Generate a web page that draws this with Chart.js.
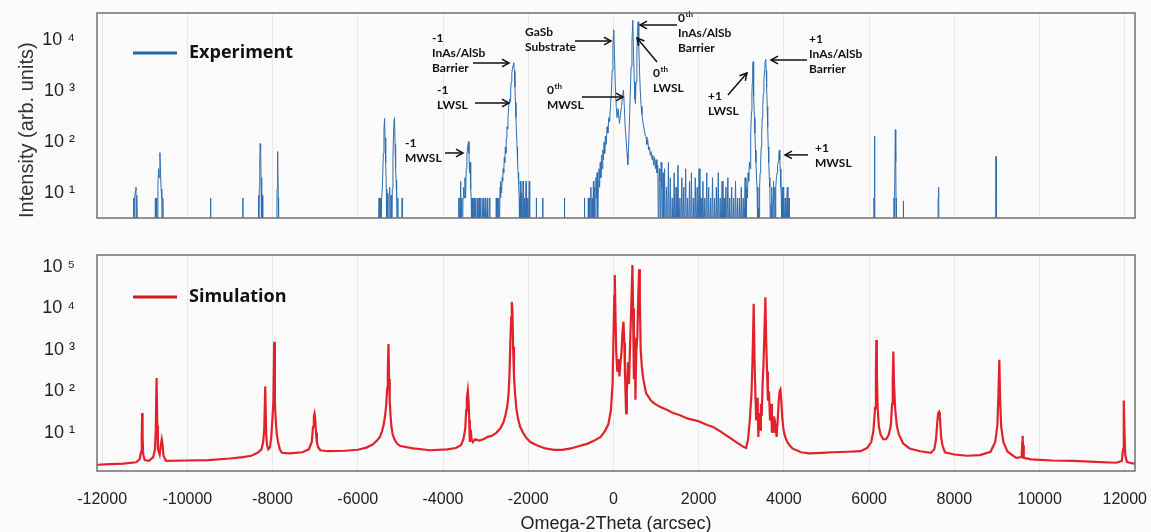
<!DOCTYPE html>
<html>
<head>
<meta charset="utf-8">
<script src="https://cdn.jsdelivr.net/npm/chart.js@4"></script>
<style>
  html, body { margin: 0; padding: 0; background: #fbfbfb; overflow: hidden; }
  #wrap { position: relative; width: 1151px; height: 532px; overflow: hidden; }
  .box { position: absolute; left: 0; width: 1151px; }
</style>
</head>
<body>
<div id="wrap">
  <div class="box" style="top:0;height:232px"><canvas id="expChart"></canvas></div>
  <div class="box" style="top:240px;height:296px"><canvas id="simChart"></canvas></div>
</div>
<script>
// x axis (arcsec) and decade ticks
const xTicks = [-12000, -10000, -8000, -6000, -4000, -2000, 0, 2000, 4000, 6000, 8000, 10000, 12000];
const expTicks = [10, 100, 1000, 10000];
const simTicks = [10, 100, 1000, 10000, 100000];

// measured counts, [omega-2theta, intensity]; 1 = no counts (below the axis), null = no data
const experimentPoints = [
  [-11270,1],[-11260,8],[-11250,1],[-11235,8],[-11220,11],[-11205,13],[-11195,1],[-11185,9],[-11170,1],[-11160,null],
  [-10760,1],[-10750,8],[-10740,1],[-10720,8],[-10700,1],[-10690,15],[-10675,30],[-10660,20],[-10643,62],[-10630,25],[-10615,12],[-10600,8],[-10590,1],[-10575,8],[-10560,1],[-10550,null],
  [-9460,1],[-9455,8],[-9450,1],[-9440,null],
  [-8700,1],[-8696,8],[-8690,1],[-8680,null],
  [-8340,1],[-8330,9],[-8320,1],[-8310,13],[-8300,40],[-8290,93],[-8280,70],[-8270,20],[-8260,8],[-8250,1],[-8240,9],[-8230,1],[-8220,null],
  [-7900,1],[-7895,12],[-7883,65],[-7875,30],[-7865,8],[-7858,1],[-7850,null],
  [-5520,1],[-5500,8],[-5490,1],[-5470,8],[-5460,1],[-5440,8],[-5420,15],[-5400,60],[-5385,170],[-5372,290],[-5360,120],[-5345,40],[-5330,12],[-5320,1],[-5300,10],[-5290,1],[-5270,8],[-5250,13],[-5235,1],[-5220,9],[-5205,1],[-5190,12],[-5175,45],[-5160,150],[-5148,280],[-5138,300],[-5125,90],[-5112,30],[-5100,18],[-5088,8],[-5075,1],[-5060,8],[-5050,1],[-4970,1],[-4960,8],[-4950,1],[-4940,null],
  [-3640,1],[-3630,8],[-3620,1],[-3600,8],[-3590,17],[-3580,1],[-3560,8],[-3545,1],[-3530,8],[-3515,13],[-3500,8],[-3485,20],[-3470,8],[-3455,30],[-3440,55],[-3420,80],[-3402,102],[-3390,60],[-3378,25],[-3365,40],[-3350,12],[-3338,8],[-3325,1],[-3310,8],[-3298,1],[-3270,8],[-3260,1],[-3230,8],[-3220,1],[-3190,8],[-3180,1],[-3150,8],[-3140,1],[-3110,8],[-3100,1],[-3060,8],[-3050,1],[-3010,8],[-3000,1],[-2960,8],[-2950,1],[-2900,8],[-2890,1],[-2880,null],
  [-2760,1],[-2750,8],[-2740,1],[-2720,8],[-2705,1],[-2690,8],[-2680,1],[-2660,13],[-2650,8],[-2640,17],[-2625,10],[-2612,20],[-2600,17],[-2588,30],[-2575,25],[-2562,50],[-2550,40],[-2538,80],[-2525,60],[-2512,120],[-2500,200],[-2488,180],[-2475,300],[-2462,450],[-2450,600],[-2438,700],[-2425,620],[-2412,1000],[-2400,1500],[-2385,2200],[-2370,2800],[-2355,3200],[-2339,3600],[-2325,2500],[-2312,1200],[-2300,600],[-2288,300],[-2275,150],[-2262,80],[-2250,40],[-2238,25],[-2225,15],[-2212,8],[-2200,1],[-2185,17],[-2172,1],[-2155,10],[-2140,1],[-2120,17],[-2110,1],[-2085,8],[-2075,1],[-2050,17],[-2040,1],[-2010,8],[-2000,1],[-1975,17],[-1965,1],[-1955,null],
  [-1815,1],[-1810,8],[-1805,1],[-1800,null],
  [-1665,1],[-1660,8],[-1655,1],[-1650,null],
  [-1155,1],[-1150,8],[-1145,1],[-1140,null],
  [-685,1],[-680,8],[-675,1],[-670,null],
  [-600,1],[-590,8],[-580,1],[-560,8],[-550,1],[-530,13],[-520,1],[-500,8],[-490,1],[-470,17],[-460,1],[-440,13],[-430,1],[-410,20],[-400,8],[-385,25],[-372,1],[-355,17],[-340,30],[-325,13],[-310,40],[-295,20],[-280,55],[-265,30],[-250,70],[-235,45],[-220,100],[-205,60],[-190,130],[-170,90],[-150,200],[-130,150],[-110,300],[-90,250],[-70,500],[-50,900],[-30,2500],[-12,8000],[8,15800],[25,5000],[45,1200],[65,500],[85,300],[110,450],[141,233],[165,350],[190,500],[215,800],[235,1050],[255,500],[275,200],[300,100],[320,60],[336,36],[355,80],[375,250],[395,900],[415,3000],[435,9000],[454,24500],[470,6000],[490,1500],[505,700],[516,570],[530,1500],[550,6000],[565,14000],[579,22800],[595,8000],[612,2500],[630,1000],[650,500],[670,350],[690,250],[710,200],[730,160],[750,130],[766,126],[785,90],[805,110],[825,70],[845,80],[865,55],[885,65],[905,45],[925,55],[945,35],[965,50],[985,30],[1001,45],[1020,25],[1040,35],[1060,1],[1075,30],[1090,17],[1105,1],[1120,40],[1135,13],[1150,1],[1165,25],[1180,1],
  [1200,30],[1220,1],[1245,13],[1265,1],[1290,40],[1310,1],[1335,20],[1355,1],[1380,8],[1400,1],[1425,25],[1445,1],[1470,13],[1490,1],[1515,35],[1535,1],[1560,8],[1580,1],[1605,20],[1625,1],[1650,13],[1670,1],[1695,30],[1715,1],[1740,8],[1760,1],[1785,17],[1805,1],[1830,25],[1850,1],[1875,8],[1895,1],[1920,20],[1940,1],[1965,13],[1985,1],[2010,30],[2030,1],[2055,8],[2075,1],[2100,17],[2120,1],[2145,8],[2165,1],[2190,25],[2210,1],[2235,13],[2255,1],[2280,8],[2300,1],[2325,20],[2345,1],[2370,8],[2390,1],[2415,13],[2435,1],[2460,25],[2480,1],[2505,8],[2525,1],[2550,17],[2570,1],[2595,8],[2615,1],[2640,13],[2660,1],[2685,20],[2705,1],[2730,8],[2750,1],[2775,13],[2795,1],[2820,8],[2840,1],[2865,17],[2885,1],[2910,8],[2930,1],[2955,8],[2975,1],[3000,13],[3020,1],[3045,8],[3065,1],[3090,20],[3110,1],
  [3130,13],[3145,8],[3160,25],[3175,17],[3190,40],[3205,30],[3215,80],[3228,150],[3240,400],[3250,900],[3260,1500],[3268,2500],[3277,3750],[3286,1800],[3295,800],[3308,300],[3320,150],[3333,70],[3345,40],[3358,20],[3370,13],[3390,1],[3409,5],[3420,1],[3430,13],[3443,25],[3455,40],[3468,80],[3480,150],[3493,300],[3505,500],[3518,900],[3530,1500],[3543,2500],[3555,3500],[3565,3900],[3574,4170],[3585,2500],[3595,1200],[3608,500],[3620,200],[3633,80],[3645,40],[3658,20],[3670,13],[3685,1],[3699,6],[3710,1],[3720,13],[3732,1],[3745,8],[3757,17],[3770,1],[3790,13],[3800,1],[3810,13],[3825,20],[3840,25],[3852,35],[3865,40],[3880,55],[3894,69],[3905,45],[3915,30],[3928,13],[3940,8],[3950,1],[3960,13],[3972,1],[3985,13],[3995,1],[4030,8],[4045,1],[4080,13],[4095,1],[4120,8],[4130,1],[4140,null],
  [6110,1],[6115,8],[6123,132],[6130,25],[6138,1],[6145,null],
  [6580,1],[6585,8],[6592,1],[6605,8],[6616,175],[6625,40],[6632,8],[6640,1],[6650,null],
  [6800,1],[6804,7],[6808,1],[6815,null],
  [7615,1],[7620,8],[7628,13],[7636,13],[7644,1],[7650,null],
  [8970,1],[8974,8],[8978,52],[8984,20],[8990,1]
];

// simulated curve, [omega-2theta, intensity]
const simulationPoints = [
  [-12120,1.7],[-11800,1.75],[-11500,1.8],[-11200,1.95],[-11120,2.3],[-11085,3.5],[-11070,8],[-11060,30],[-11050,8],[-11035,3],[-11000,2.2],[-10900,2.1],[-10800,2.6],[-10760,4],[-10740,12],[-10722,209],[-10705,15],[-10690,4],[-10670,3.5],[-10650,3],[-10625,5],[-10600,7],[-10580,5],[-10560,2.8],[-10500,2.1],
  [-10000,2.15],[-9500,2.2],[-9000,2.4],[-8700,2.6],[-8500,2.8],[-8350,3.3],[-8260,4],[-8220,6],[-8195,12],[-8172,131],[-8150,10],[-8130,5],[-8100,4],[-8060,4.5],[-8030,8],[-8000,25],[-7980,60],[-7961,1580],[-7945,50],[-7925,20],[-7900,9],[-7870,6],[-7830,4],[-7780,3.3],
  [-7600,3.2],[-7300,3.4],[-7150,4],[-7080,6],[-7050,14],[-7030,25],[-7015,29],[-7000,22],[-6980,10],[-6960,6],[-6930,4.5],[-6880,3.8],[-6700,3.6],[-6300,3.7],[-6000,3.9],[-5800,4.4],[-5650,5.2],[-5550,6.5],[-5480,8],[-5430,11],[-5390,16],[-5355,28],[-5330,50],[-5310,120],[-5295,300],[-5279,1390],[-5265,200],[-5250,60],[-5230,25],[-5210,14],[-5180,9],[-5140,7],[-5080,5.5],[-5000,4.8],
  [-4700,4.2],[-4300,3.8],[-3900,4],[-3700,4.3],[-3580,5],[-3520,7],[-3480,12],[-3455,35],[-3440,70],[-3418,105],[-3400,60],[-3385,20],[-3370,6],[-3350,12],[-3330,7],[-3300,6],[-3250,7],[-3150,6.5],[-3050,7],[-2950,8],[-2850,8.5],[-2750,10],[-2650,13],[-2580,18],[-2530,28],[-2490,45],[-2460,90],[-2440,250],[-2420,1500],[-2400,6000],[-2385,14500],[-2370,8000],[-2355,1200],[-2335,250],[-2310,90],[-2280,40],[-2240,22],[-2190,14],[-2120,10],[-2040,7.5],[-1950,6],[-1800,5],[-1600,4.2],[-1400,3.9],[-1200,3.9],[-1000,4.2],[-800,4.8],[-600,5.5],[-450,6.5],[-300,8],[-200,11],[-120,16],[-60,35],[-20,150],
  [0,2000],[20,20000],[31,64000],[45,10000],[65,900],[90,300],[115,600],[141,230],[165,500],[190,900],[210,2500],[235,4800],[255,1500],[270,300],[285,80],[297,30],[315,100],[340,500],[365,150],[385,900],[405,4000],[425,20000],[446,112000],[460,10000],[480,200],[500,2000],[516,63],[535,900],[560,2000],[580,15000],[602,88000],[620,15000],[640,1000],[665,400],[700,200],[735,130],[766,91],[820,75],[880,60],[950,52],[1079,43],[1250,36],[1400,30],[1548,27],[1750,22],[2000,19],[2200,15.5],[2330,14],[2500,11],[2700,8],[2900,5.8],[3050,4.6],[3113,4.3],
  [3160,7],[3200,20],[3240,90],[3265,600],[3292,13000],[3310,600],[3330,100],[3350,20],[3370,70],[3386,43],[3400,8],[3420,30],[3440,12],[3460,50],[3480,25],[3500,150],[3520,400],[3540,2000],[3566,18700],[3585,1500],[3605,300],[3625,60],[3650,100],[3675,20],[3700,50],[3720,10],[3738,17],[3760,25],[3780,10],[3800,15],[3830,8],[3860,25],[3880,60],[3900,100],[3918,110],[3935,70],[3960,25],[3990,12],[4030,8],[4080,6],[4129,5.1],[4200,4.2],[4400,3.4],[4598,3.2],[4900,3.3],[5138,3.4],[5500,3.5],[5800,3.6],
  [5950,4.3],[6050,6],[6100,11],[6140,40],[6160,300],[6170,1740],[6182,300],[6200,40],[6230,14],[6270,9],[6330,7],[6400,7],[6460,9],[6510,15],[6540,50],[6555,200],[6569,910],[6585,150],[6610,40],[6650,15],[6700,9],[6800,5.5],[6950,4.2],[7200,3.6],[7450,3.3],[7530,4],[7570,7],[7600,18],[7620,30],[7641,32],[7660,25],[7690,8],[7720,5],[7780,3.4],[8000,3],[8300,2.8],[8600,2.9],[8850,3.5],[8960,6],[9010,15],[9035,80],[9056,575],[9075,60],[9100,14],[9150,6],[9250,3.5],[9450,2.5],[9580,2.6],[9595,6],[9603,8.5],[9612,5],[9630,2.5],[9800,2.3],[10300,2.15],[10800,2.1],[11300,2],[11800,1.9],[11930,2.1],[11960,4],[11972,15],[11981,60],[11992,12],[12010,3],[12050,2],[12150,1.85],[12240,1.8]
];

// peak labels: text anchor, arrow tail and tip, all in data units
const annotations = [
  { text: ['-1', 'InAs/AlSb', 'Barrier'], at: [-4258, 11000], from: [-3296, 3550], to: [-2451, 3550] },
  { text: ['-1', 'LWSL'], at: [-4141, 1050], from: [-3249, 582], to: [-2451, 582] },
  { text: ['-1', 'MWSL'], at: [-4892, 95], from: [-3953, 61], to: [-3531, 61] },
  { text: ['GaSb', 'Substrate'], at: [-2076, 14350], from: [-902, 9550], to: [-57, 9550] },
  { text: ['0th', 'MWSL'], at: [-1559, 1050], from: [-738, 764], to: [224, 764] },
  { text: ['0th', 'InAs/AlSb', 'Barrier'], at: [1515, 27040], from: [1491, 19720], to: [623, 19720] },
  { text: ['0th', 'LWSL'], at: [928, 2260], from: [1022, 3700], to: [553, 10960] },
  { text: ['+1', 'LWSL'], at: [2219, 794], from: [2688, 832], to: [3134, 2260] },
  { text: ['+1', 'InAs/AlSb', 'Barrier'], at: [4589, 10470], from: [4542, 4055], to: [3697, 4055] },
  { text: ['+1', 'MWSL'], at: [4730, 76], from: [4566, 56], to: [4026, 56] }
];

Chart.defaults.font.family = '"Liberation Sans", Arial, sans-serif';
Chart.defaults.color = '#222';

const sup = { 1: '\u00b9', 2: '\u00b2', 3: '\u00b3', 4: '\u2074', 5: '\u2075' };

const frame = {
  id: 'frame',
  afterDraw(chart) {
    const { ctx, chartArea: a } = chart;
    ctx.save();
    ctx.strokeStyle = '#707070';
    ctx.lineWidth = 1.5;
    ctx.strokeRect(a.left, a.top, a.right - a.left, a.bottom - a.top);
    ctx.restore();
  }
};

function legendMark(label, color, dy) {
  return {
    id: 'legendMark',
    afterDraw(chart) {
      const { ctx, chartArea: a } = chart;
      const y = a.top + dy;
      ctx.save();
      ctx.strokeStyle = color;
      ctx.lineWidth = 3;
      ctx.beginPath();
      ctx.moveTo(a.left + 36, y);
      ctx.lineTo(a.left + 80, y);
      ctx.stroke();
      ctx.fillStyle = '#111';
      ctx.font = 'bold 18px "Open Sans"';
      ctx.textBaseline = 'middle';
      ctx.fillText(label, a.left + 92, y);
      ctx.restore();
    }
  };
}

const arrowLabels = {
  id: 'arrowLabels',
  afterDatasetsDraw(chart) {
    const { ctx, scales: { x, y } } = chart;
    ctx.save();
    ctx.fillStyle = '#111';
    ctx.strokeStyle = '#111';
    ctx.lineWidth = 1.5;
    ctx.textBaseline = 'middle';
    annotations.forEach(a => {
      const tx = x.getPixelForValue(a.at[0]);
      const ty = y.getPixelForValue(a.at[1]);
      a.text.forEach((line, i) => {
        const ly = ty + i * 15;
        ctx.font = 'bold 12px Lato';
        if (line === '0th') {
          ctx.fillText('0', tx, ly);
          const w = ctx.measureText('0').width;
          ctx.font = 'bold 8px Lato';
          ctx.fillText('th', tx + w + 0.5, ly - 4);
        } else {
          ctx.fillText(line, tx, ly);
        }
      });
      const x1 = x.getPixelForValue(a.from[0]), y1 = y.getPixelForValue(a.from[1]);
      const x2 = x.getPixelForValue(a.to[0]), y2 = y.getPixelForValue(a.to[1]);
      ctx.beginPath();
      ctx.moveTo(x1, y1);
      ctx.lineTo(x2, y2);
      ctx.stroke();
      const ang = Math.atan2(y2 - y1, x2 - x1), hl = 8;
      ctx.beginPath();
      ctx.moveTo(x2 - hl * Math.cos(ang - 0.5), y2 - hl * Math.sin(ang - 0.5));
      ctx.lineTo(x2, y2);
      ctx.lineTo(x2 - hl * Math.cos(ang + 0.5), y2 - hl * Math.sin(ang + 0.5));
      ctx.stroke();
    });
    ctx.restore();
  }
};

function xScale(showLabels) {
  return {
    type: 'linear',
    min: -12120,
    max: 12240,
    afterBuildTicks: s => { s.ticks = xTicks.map(v => ({ value: v })); },
    afterFit: s => {
      s.height = showLabels ? 65 : 0;
      s.paddingLeft = 0;
      s.paddingRight = 0;
    },
    grid: { color: '#e8e8e8', drawTicks: false },
    border: { display: false },
    ticks: {
      display: showLabels,
      padding: 19,
      font: { size: 16 },
      color: '#222',
      callback: v => String(v)
    },
    title: {
      display: showLabels,
      text: 'Omega-2Theta (arcsec)',
      font: { size: 18 },
      color: '#222',
      padding: { top: 0, bottom: 1 }
    }
  };
}

function yScale(min, max, ticks, title) {
  return {
    type: 'logarithmic',
    min: min,
    max: max,
    afterBuildTicks: s => { s.ticks = ticks.map(v => ({ value: v })); },
    afterFit: s => {
      s.width = 97;
      s.paddingTop = 0;
      s.paddingBottom = 0;
    },
    grid: { display: false },
    border: { display: false },
    ticks: {
      padding: 14,
      font: { size: 18 },
      color: '#222',
      callback: v => '10 ' + sup[Math.round(Math.log10(v))]
    },
    title: {
      display: !!title,
      text: title || '',
      align: 'start',
      font: { size: 20 },
      color: '#333',
      padding: { top: 15, bottom: 0 }
    }
  };
}

new Chart(document.getElementById('expChart'), {
  type: 'line',
  data: {
    datasets: [{
      label: 'Experiment',
      data: experimentPoints,
      borderColor: '#2f6db0',
      borderWidth: 1,
      pointRadius: 0,
      tension: 0,
      spanGaps: false
    }]
  },
  options: {
    responsive: true,
    maintainAspectRatio: false,
    animation: false,
    layout: { padding: { top: 13, right: 16, bottom: 14, left: 0 } },
    plugins: { legend: { display: false }, tooltip: { enabled: false } },
    scales: {
      x: xScale(false),
      y: yScale(3.24, 33900, expTicks, 'Intensity (arb. units)')
    }
  },
  plugins: [frame, arrowLabels, legendMark('Experiment', '#1f6aa5', 40)]
});

new Chart(document.getElementById('simChart'), {
  type: 'line',
  data: {
    datasets: [{
      label: 'Simulation',
      data: simulationPoints,
      borderColor: '#e3212a',
      borderWidth: 2.2,
      pointRadius: 0,
      tension: 0
    }]
  },
  options: {
    responsive: true,
    maintainAspectRatio: false,
    animation: false,
    layout: { padding: { top: 15, right: 16, bottom: 0, left: 0 } },
    plugins: { legend: { display: false }, tooltip: { enabled: false } },
    scales: {
      x: xScale(true),
      y: yScale(1.2, 195000, simTicks, null)
    }
  },
  plugins: [frame, legendMark('Simulation', '#d7191f', 42)]
});
</script>
</body>
</html>
